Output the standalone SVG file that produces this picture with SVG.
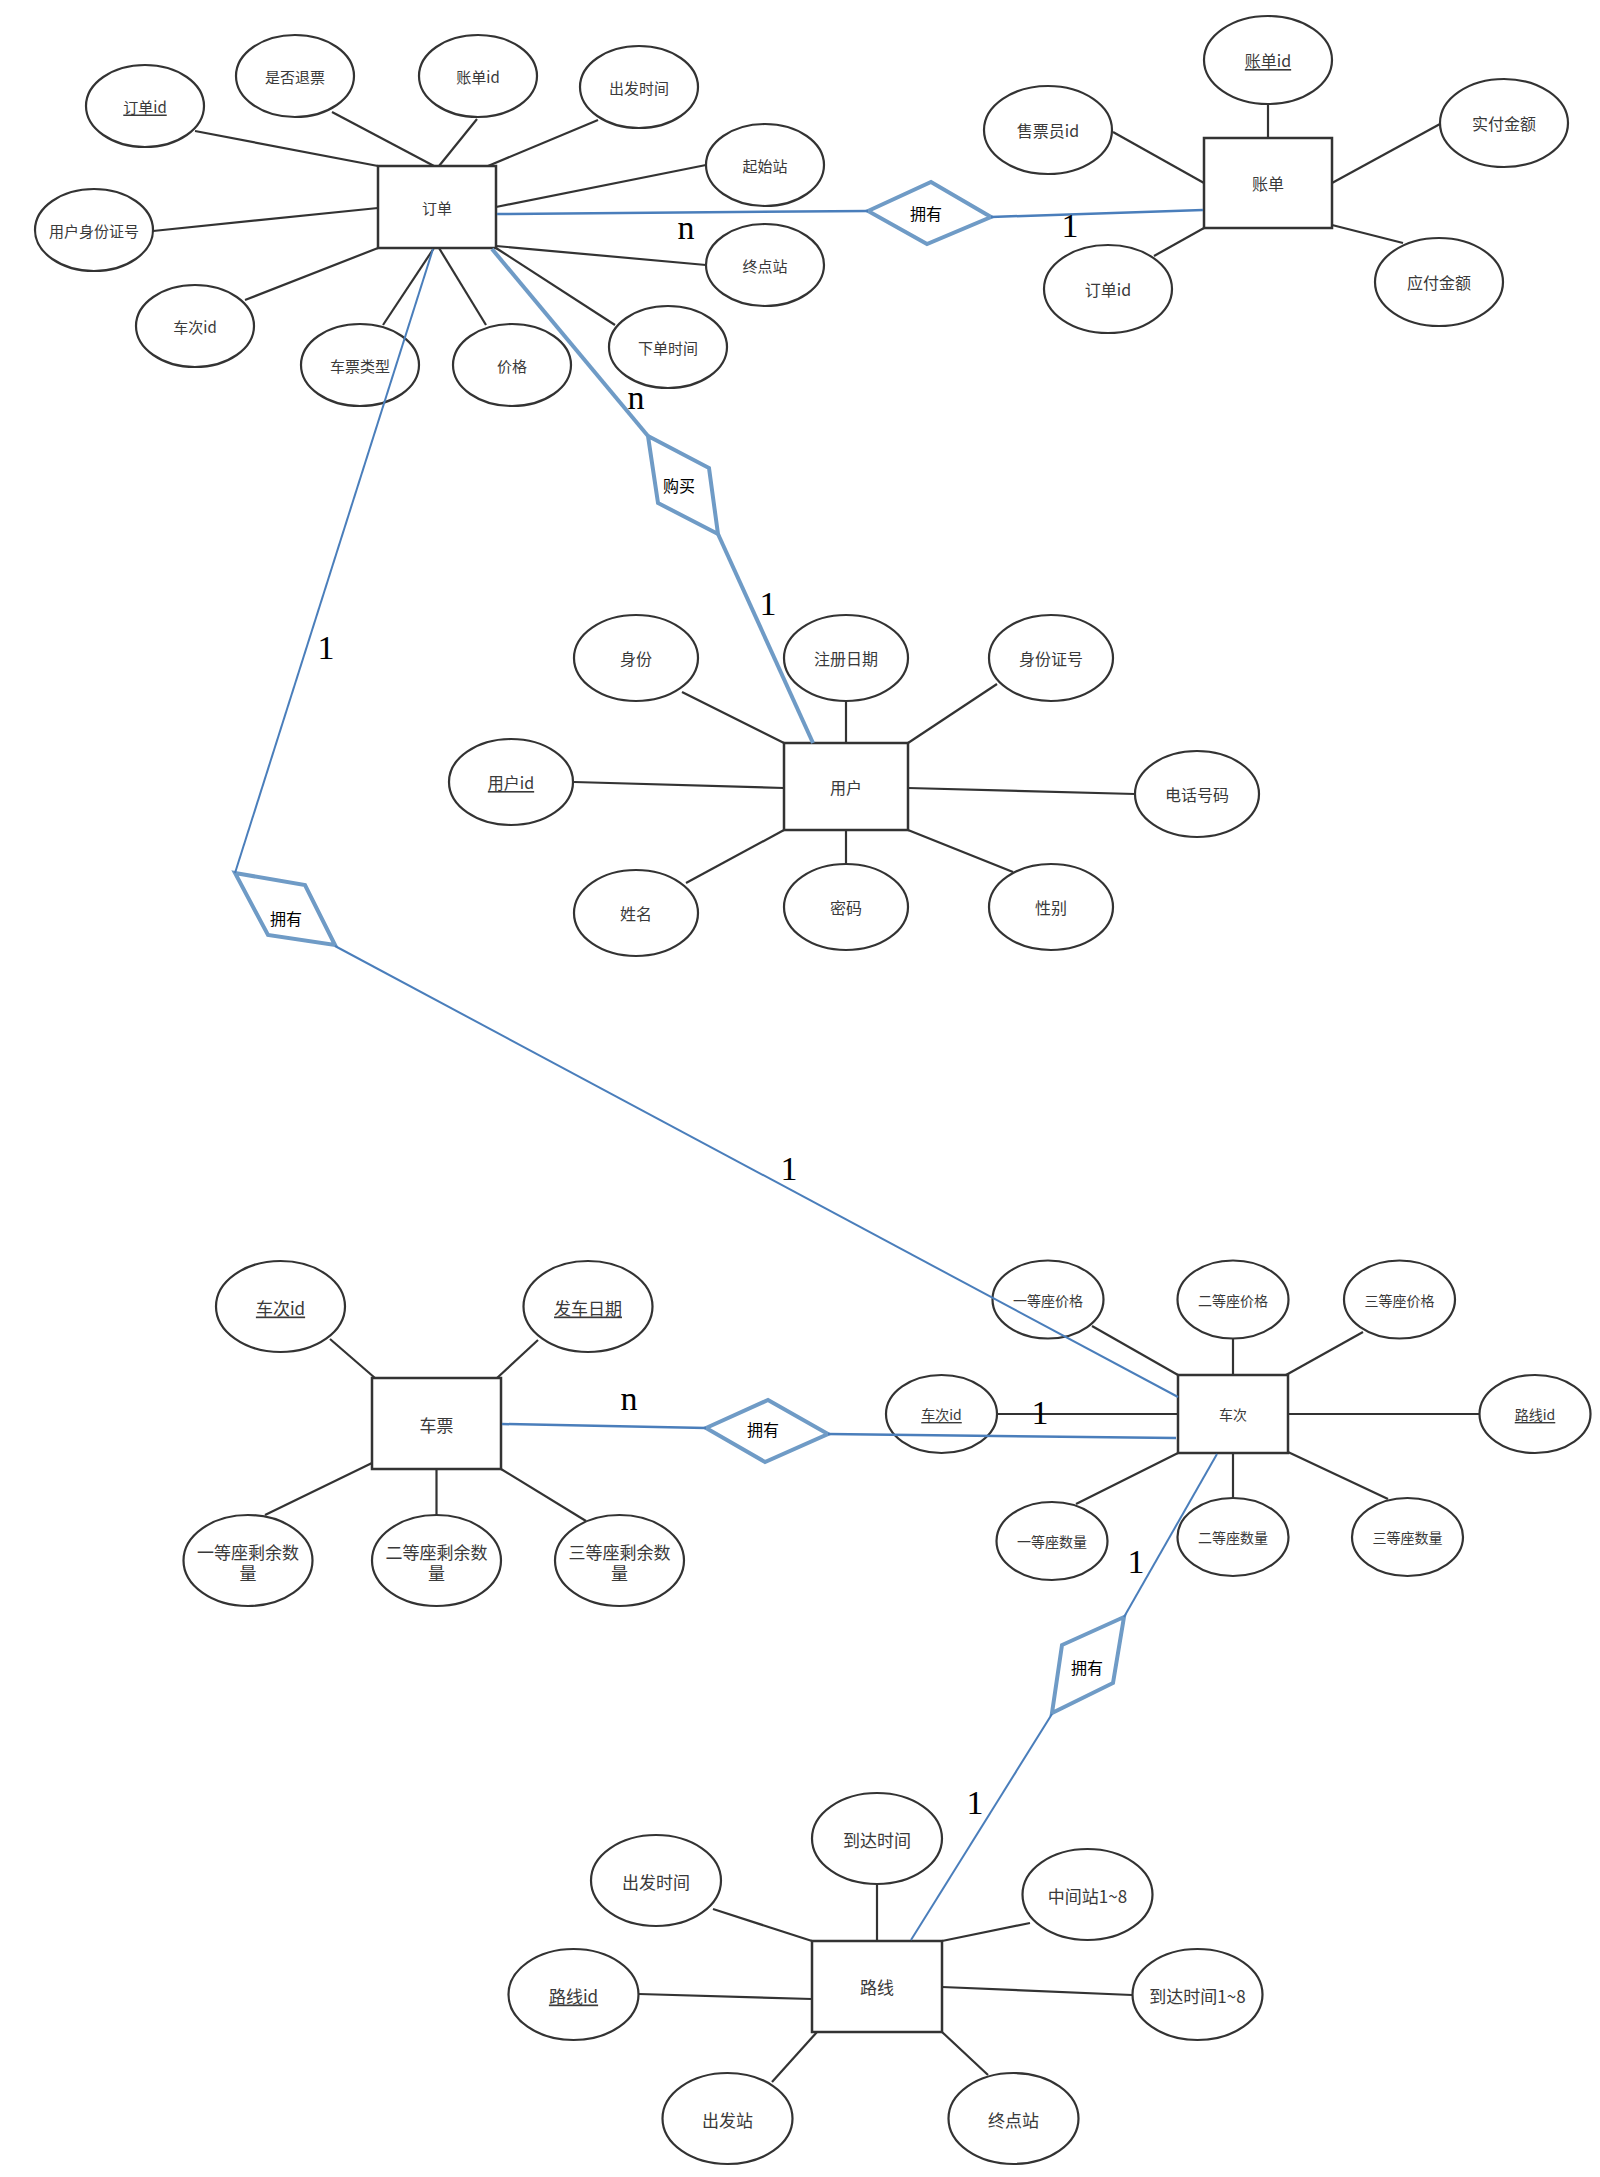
<svg xmlns="http://www.w3.org/2000/svg" width="1600" height="2177" viewBox="0 0 1600 2177">
<defs>
<style>
.bg{fill:#ffffff}
.ent{fill:#ffffff;stroke:#333333;stroke-width:2.5}
.att{fill:#ffffff;stroke:#333333;stroke-width:2.2}
.rel{fill:#ffffff;stroke:#6f9bc6;stroke-width:4;stroke-linejoin:miter}
.al{stroke:#333333;stroke-width:2.2;fill:none}
.bl{stroke:#4a7ebb;stroke-width:2;fill:none}
.bw{stroke:#4a7ebb;stroke-width:2.5;fill:none}
.lb{stroke:#6f9bc6;stroke-width:4;fill:none}
text{font-family:"Noto Sans CJK SC","Noto Sans",sans-serif;fill:#3a3a3a;text-anchor:middle;dominant-baseline:central}
.s14{font-size:14px}
.s15{font-size:15px}
.s16{font-size:16px}
.s17{font-size:17px}
.u{text-decoration:underline}
.rt{fill:#000000;font-size:16px}
.card{font-family:"Liberation Serif","Times New Roman",serif;font-size:34px;fill:#000000;dominant-baseline:alphabetic}
</style>
</defs>
<rect class="bg" x="0" y="0" width="1600" height="2177"/>

<g id="attribute-lines">
<!-- 订单 -->
<line class="al" x1="195" y1="131" x2="378" y2="166"/>
<line class="al" x1="332" y1="112" x2="434" y2="166"/>
<line class="al" x1="477" y1="119" x2="439" y2="166"/>
<line class="al" x1="598" y1="120" x2="488" y2="166"/>
<line class="al" x1="706" y1="165" x2="496" y2="207"/>
<line class="al" x1="153" y1="231" x2="378" y2="208"/>
<line class="al" x1="706" y1="265" x2="496" y2="246"/>
<line class="al" x1="245" y1="300" x2="378" y2="248"/>
<line class="al" x1="383" y1="325" x2="434" y2="248"/>
<line class="al" x1="486" y1="325" x2="439" y2="248"/>
<line class="al" x1="615" y1="325" x2="496" y2="248"/>
<!-- 账单 -->
<line class="al" x1="1268" y1="104" x2="1268" y2="138"/>
<line class="al" x1="1113" y1="132" x2="1204" y2="183"/>
<line class="al" x1="1440" y1="124" x2="1332" y2="183"/>
<line class="al" x1="1154" y1="256" x2="1204" y2="228"/>
<line class="al" x1="1403" y1="243" x2="1332" y2="225"/>
<!-- 用户 -->
<line class="al" x1="682" y1="692" x2="784" y2="743"/>
<line class="al" x1="846" y1="702" x2="846" y2="743"/>
<line class="al" x1="997" y1="684" x2="908" y2="743"/>
<line class="al" x1="574" y1="782" x2="784" y2="788"/>
<line class="al" x1="908" y1="788" x2="1135" y2="794"/>
<line class="al" x1="686" y1="883" x2="784" y2="830"/>
<line class="al" x1="846" y1="830" x2="846" y2="864"/>
<line class="al" x1="908" y1="830" x2="1013" y2="872"/>
<!-- 车票 -->
<line class="al" x1="330" y1="1339" x2="375" y2="1378"/>
<line class="al" x1="538" y1="1340" x2="497" y2="1378"/>
<line class="al" x1="265" y1="1515" x2="372" y2="1463"/>
<line class="al" x1="436.5" y1="1469" x2="436.5" y2="1515"/>
<line class="al" x1="501" y1="1469" x2="586" y2="1521"/>
<!-- 车次 -->
<line class="al" x1="1092" y1="1326" x2="1178" y2="1375"/>
<line class="al" x1="1233" y1="1339" x2="1233" y2="1375"/>
<line class="al" x1="1363" y1="1332" x2="1286" y2="1375"/>
<line class="al" x1="997" y1="1414" x2="1178" y2="1414"/>
<line class="al" x1="1288" y1="1414" x2="1480" y2="1414"/>
<line class="al" x1="1076" y1="1504" x2="1178" y2="1453"/>
<line class="al" x1="1233" y1="1453" x2="1233" y2="1498"/>
<line class="al" x1="1288" y1="1452" x2="1388" y2="1499"/>
<!-- 路线 -->
<line class="al" x1="877" y1="1884" x2="877" y2="1941"/>
<line class="al" x1="713" y1="1909" x2="812" y2="1941"/>
<line class="al" x1="1030" y1="1923" x2="942" y2="1941"/>
<line class="al" x1="639" y1="1994" x2="812" y2="1999"/>
<line class="al" x1="942" y1="1987" x2="1132" y2="1995"/>
<line class="al" x1="772" y1="2082" x2="817" y2="2032"/>
<line class="al" x1="942" y1="2032" x2="988" y2="2075"/>
</g>

<!-- ===== 订单 ===== -->
<g id="order">
<rect class="ent" x="378" y="166" width="118" height="82"/>
<text class="s15" x="437" y="207">订单</text>
</g>
<g id="order-id"><ellipse class="att" cx="145" cy="106" rx="59" ry="41"/><text class="s15 u" x="145" y="106">订单id</text></g>
<g id="order-refund"><ellipse class="att" cx="295" cy="76" rx="59" ry="41"/><text class="s15" x="295" y="76">是否退票</text></g>
<g id="order-bill-id"><ellipse class="att" cx="478" cy="76" rx="59" ry="41"/><text class="s15" x="478" y="76">账单id</text></g>
<g id="order-depart-time"><ellipse class="att" cx="639" cy="87" rx="59" ry="41"/><text class="s15" x="639" y="87">出发时间</text></g>
<g id="order-start"><ellipse class="att" cx="765" cy="165" rx="59" ry="41"/><text class="s15" x="765" y="165">起始站</text></g>
<g id="order-user-idcard"><ellipse class="att" cx="94" cy="230" rx="59" ry="41"/><text class="s15" x="94" y="230">用户身份证号</text></g>
<g id="order-end"><ellipse class="att" cx="765" cy="265" rx="59" ry="41"/><text class="s15" x="765" y="265">终点站</text></g>
<g id="order-train-id"><ellipse class="att" cx="195" cy="326" rx="59" ry="41"/><text class="s15" x="195" y="326">车次id</text></g>
<g id="order-ticket-type"><ellipse class="att" cx="360" cy="365" rx="59" ry="41"/><text class="s15" x="360" y="365">车票类型</text></g>
<g id="order-price"><ellipse class="att" cx="512" cy="365" rx="59" ry="41"/><text class="s15" x="512" y="365">价格</text></g>
<g id="order-time"><ellipse class="att" cx="668" cy="347" rx="59" ry="41"/><text class="s15" x="668" y="347">下单时间</text></g>

<!-- ===== 账单 ===== -->
<g id="bill">
<rect class="ent" x="1204" y="138" width="128" height="90"/>
<text class="s16" x="1268" y="183">账单</text>
</g>
<g id="bill-id"><ellipse class="att" cx="1268" cy="60" rx="64" ry="44"/><text class="s16 u" x="1268" y="60">账单id</text></g>
<g id="bill-seller-id"><ellipse class="att" cx="1048" cy="130" rx="64" ry="44"/><text class="s16" x="1048" y="130">售票员id</text></g>
<g id="bill-paid"><ellipse class="att" cx="1504" cy="123" rx="64" ry="44"/><text class="s16" x="1504" y="123">实付金额</text></g>
<g id="bill-order-id"><ellipse class="att" cx="1108" cy="289" rx="64" ry="44"/><text class="s16" x="1108" y="289">订单id</text></g>
<g id="bill-due"><ellipse class="att" cx="1439" cy="282" rx="64" ry="44"/><text class="s16" x="1439" y="282">应付金额</text></g>

<!-- ===== 用户 ===== -->
<g id="user">
<rect class="ent" x="784" y="743" width="124" height="87"/>
<text class="s16" x="846" y="787">用户</text>
</g>
<g id="user-role"><ellipse class="att" cx="636" cy="658" rx="62" ry="43"/><text class="s16" x="636" y="658">身份</text></g>
<g id="user-regdate"><ellipse class="att" cx="846" cy="658" rx="62" ry="43"/><text class="s16" x="846" y="658">注册日期</text></g>
<g id="user-idcard"><ellipse class="att" cx="1051" cy="658" rx="62" ry="43"/><text class="s16" x="1051" y="658">身份证号</text></g>
<g id="user-id"><ellipse class="att" cx="511" cy="782" rx="62" ry="43"/><text class="s16 u" x="511" y="782">用户id</text></g>
<g id="user-phone"><ellipse class="att" cx="1197" cy="794" rx="62" ry="43"/><text class="s16" x="1197" y="794">电话号码</text></g>
<g id="user-name"><ellipse class="att" cx="636" cy="913" rx="62" ry="43"/><text class="s16" x="636" y="913">姓名</text></g>
<g id="user-password"><ellipse class="att" cx="846" cy="907" rx="62" ry="43"/><text class="s16" x="846" y="907">密码</text></g>
<g id="user-gender"><ellipse class="att" cx="1051" cy="907" rx="62" ry="43"/><text class="s16" x="1051" y="907">性别</text></g>

<!-- ===== 车票 ===== -->
<g id="ticket">
<rect class="ent" x="372" y="1378" width="129" height="91"/>
<text class="s17" x="436.5" y="1424">车票</text>
</g>
<g id="ticket-train-id"><ellipse class="att" cx="280.5" cy="1306.5" rx="64.5" ry="45.5"/><text class="s17 u" x="280.5" y="1307">车次id</text></g>
<g id="ticket-date"><ellipse class="att" cx="588" cy="1306.5" rx="64.5" ry="45.5"/><text class="s17 u" x="588" y="1307">发车日期</text></g>
<g id="ticket-first-left"><ellipse class="att" cx="248" cy="1560.5" rx="64.5" ry="45.5"/><text class="s17" x="248" y="1551">一等座剩余数</text><text class="s17" x="248" y="1572">量</text></g>
<g id="ticket-second-left"><ellipse class="att" cx="436.5" cy="1560.5" rx="64.5" ry="45.5"/><text class="s17" x="436.5" y="1551">二等座剩余数</text><text class="s17" x="436.5" y="1572">量</text></g>
<g id="ticket-third-left"><ellipse class="att" cx="619.5" cy="1560.5" rx="64.5" ry="45.5"/><text class="s17" x="619.5" y="1551">三等座剩余数</text><text class="s17" x="619.5" y="1572">量</text></g>

<!-- ===== 车次 ===== -->
<g id="train">
<rect class="ent" x="1178" y="1375" width="110" height="78"/>
<text class="s14" x="1233" y="1414">车次</text>
</g>
<g id="train-first-price"><ellipse class="att" cx="1048" cy="1299.5" rx="55.5" ry="39"/><text class="s14" x="1048" y="1300">一等座价格</text></g>
<g id="train-second-price"><ellipse class="att" cx="1233" cy="1299.5" rx="55.5" ry="39"/><text class="s14" x="1233" y="1300">二等座价格</text></g>
<g id="train-third-price"><ellipse class="att" cx="1399.5" cy="1299.5" rx="55.5" ry="39"/><text class="s14" x="1399.5" y="1300">三等座价格</text></g>
<g id="train-id"><ellipse class="att" cx="941.5" cy="1414" rx="55.5" ry="39"/><text class="s14 u" x="941.5" y="1414">车次id</text></g>
<g id="train-route-id"><ellipse class="att" cx="1535" cy="1414" rx="55.5" ry="39"/><text class="s14 u" x="1535" y="1414">路线id</text></g>
<g id="train-first-count"><ellipse class="att" cx="1052" cy="1541" rx="55.5" ry="39"/><text class="s14" x="1052" y="1541">一等座数量</text></g>
<g id="train-second-count"><ellipse class="att" cx="1233" cy="1537" rx="55.5" ry="39"/><text class="s14" x="1233" y="1537">二等座数量</text></g>
<g id="train-third-count"><ellipse class="att" cx="1407.5" cy="1537" rx="55.5" ry="39"/><text class="s14" x="1407.5" y="1537">三等座数量</text></g>

<!-- ===== 路线 ===== -->
<g id="route">
<rect class="ent" x="812" y="1941" width="130" height="91"/>
<text class="s17" x="877" y="1986">路线</text>
</g>
<g id="route-arrive-time"><ellipse class="att" cx="877" cy="1838.5" rx="65" ry="45.5"/><text class="s17" x="877" y="1839">到达时间</text></g>
<g id="route-depart-time"><ellipse class="att" cx="656" cy="1880.5" rx="65" ry="45.5"/><text class="s17" x="656" y="1881">出发时间</text></g>
<g id="route-mid-stations"><ellipse class="att" cx="1087.5" cy="1894.5" rx="65" ry="45.5"/><text class="s17" x="1087.5" y="1895">中间站1~8</text></g>
<g id="route-id"><ellipse class="att" cx="573.5" cy="1994.5" rx="65" ry="45.5"/><text class="s17 u" x="573.5" y="1995">路线id</text></g>
<g id="route-arrive-times"><ellipse class="att" cx="1197.5" cy="1994.5" rx="65" ry="45.5"/><text class="s17" x="1197.5" y="1995">到达时间1~8</text></g>
<g id="route-start"><ellipse class="att" cx="727.5" cy="2118.5" rx="65" ry="45.5"/><text class="s17" x="727.5" y="2119">出发站</text></g>
<g id="route-end"><ellipse class="att" cx="1013.5" cy="2118.5" rx="65" ry="45.5"/><text class="s17" x="1013.5" y="2119">终点站</text></g>

<!-- ===== relationships ===== -->
<g id="rel-order-bill"><polygon class="rel" points="868,211 931,182 991,217 927,244"/><text class="rt" x="926" y="213">拥有</text></g>
<g id="rel-buy"><polygon class="rel" points="648,436 709,468 718,534 658,503"/><text class="rt" x="679" y="485">购买</text></g>
<g id="rel-order-train"><polygon class="rel" points="235,873 305,885 335,945 268,935"/><text class="rt" x="286" y="918">拥有</text></g>
<g id="rel-ticket-train"><polygon class="rel" points="706,1428 768,1400 828,1434 765,1462"/><text class="rt" x="763" y="1429">拥有</text></g>
<g id="rel-train-route"><polygon class="rel" points="1124,1617 1113,1683 1052,1713 1062,1645"/><text class="rt" x="1087" y="1667">拥有</text></g>

<g id="connectors">
<line class="bw" x1="497" y1="214" x2="868" y2="211"/>
<line class="bw" x1="991" y1="217" x2="1203" y2="210"/>
<line class="lb" x1="492" y1="249" x2="648" y2="436"/>
<line class="lb" x1="718" y1="534" x2="813" y2="743"/>
<line class="bl" x1="433" y1="249" x2="235" y2="873"/>
<line class="bl" x1="335" y1="946" x2="1178" y2="1397"/>
<line class="bw" x1="502" y1="1424" x2="706" y2="1428"/>
<line class="bw" x1="828" y1="1434" x2="1176" y2="1438"/>
<line class="bl" x1="1217" y1="1454" x2="1124" y2="1617"/>
<line class="bl" x1="1052" y1="1714" x2="911" y2="1940"/>
</g>

<g id="cardinalities">
<text class="card" x="686" y="239">n</text>
<text class="card" x="1070" y="237">1</text>
<text class="card" x="636" y="409">n</text>
<text class="card" x="768" y="615">1</text>
<text class="card" x="326" y="659">1</text>
<text class="card" x="789" y="1180">1</text>
<text class="card" x="629" y="1410">n</text>
<text class="card" x="1040" y="1424">1</text>
<text class="card" x="1136" y="1573">1</text>
<text class="card" x="975" y="1814">1</text>
</g>
</svg>
